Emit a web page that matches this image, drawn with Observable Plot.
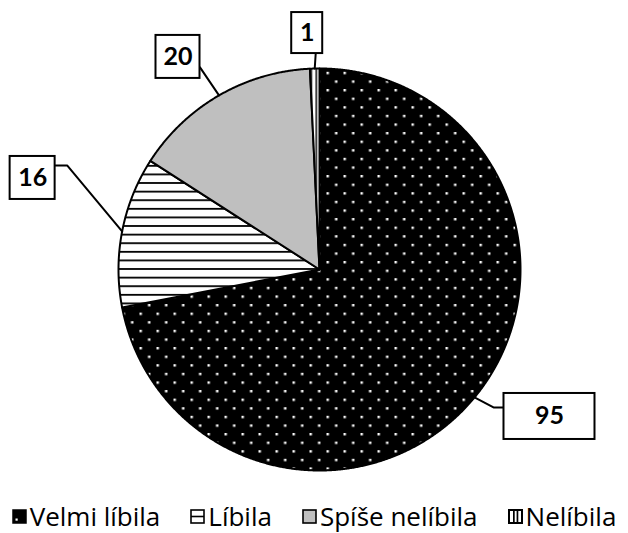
<!DOCTYPE html>
<html><head><meta charset="utf-8">
<script src="https://cdn.jsdelivr.net/npm/d3@7"></script>
<script src="https://cdn.jsdelivr.net/npm/@observablehq/plot@0.6"></script>
<style>
html,body{margin:0;background:#fff;font-family:"Open Sans",Lato,sans-serif;}
#chart svg{display:block;}
#legend{display:flex;justify-content:center;align-items:center;height:34px;padding-top:4px;font-size:26px;line-height:30px;color:#000;white-space:nowrap;}
.item{display:flex;align-items:center;margin:0 15px;}
.item svg{margin-right:3px;}
</style></head><body>
<div id="chart"></div>
<div id="legend"></div>
<script>
// ---- data ----
const categories = ["Velmi líbila", "Líbila", "Spíše nelíbila", "Nelíbila"];
const values = [95, 16, 20, 1];
const valueLabels = ["95", "16", "20", "1"];

// ---- layout / style (not data) ----
const W = 628, H = 495, CX = 319, CY = 269, R = 201;
const fills = ["url(#p-dots)", "url(#p-hlines)", "#bfbfbf", "url(#p-vlines)"];
const labelLayout = [
  {dx: 75, dy: 19, w: 91, h: 46, leader: [[0, 0], [19, 10], [30, 10]]},
  {dx: -89.5, dy: -53.5, w: 45, h: 43, leader: [[0, 0], [-55, -66], [-67, -66]]},
  {dx: -41, dy: -38.5, w: 44, h: 43, leader: [[0, 0], [-19, -28]]},
  {dx: -7.5, dy: -35.5, w: 31, h: 41, leader: [[0, 0], [1, -15]]}
];

const arcs = d3.pie().sort(null).value(d => d)(values);
const slices = arcs.map((a) => {
  const pts = [{x: CX, y: CY}];
  const n = Math.max(2, Math.ceil((a.endAngle - a.startAngle) / 0.005));
  for (let k = 0; k <= n; k++) {
    const t = a.startAngle + (a.endAngle - a.startAngle) * k / n;
    pts.push({x: CX + R * Math.sin(t), y: CY - R * Math.cos(t)});
  }
  pts.push({x: CX, y: CY});
  return pts;
});
const anchors = arcs.map(a => {
  const m = (a.startAngle + a.endAngle) / 2;
  return {x: CX + R * Math.sin(m), y: CY - R * Math.cos(m)};
});
const boxes = anchors.map((p, i) => ({
  label: valueLabels[i],
  cx: p.x + labelLayout[i].dx, cy: p.y + labelLayout[i].dy,
  x1: p.x + labelLayout[i].dx - labelLayout[i].w / 2,
  x2: p.x + labelLayout[i].dx + labelLayout[i].w / 2,
  y1: p.y + labelLayout[i].dy - labelLayout[i].h / 2,
  y2: p.y + labelLayout[i].dy + labelLayout[i].h / 2
}));
const leaders = anchors.flatMap((p, i) =>
  labelLayout[i].leader.map(([ox, oy]) => ({k: i, x: p.x + ox, y: p.y + oy})));

const plot = Plot.plot({
  width: W, height: H, margin: 0,
  x: {domain: [0, W], range: [0, W], axis: null},
  y: {domain: [0, H], range: [0, H], axis: null},
  marks: [
    ...slices.map((pts, i) => Plot.line(pts, {x: "x", y: "y", fill: fills[i], stroke: "#000", strokeWidth: 2, strokeLinejoin: "round"})),
    Plot.line(leaders, {x: "x", y: "y", z: "k", stroke: "#000", strokeWidth: 2}),
    Plot.rect(boxes, {x1: "x1", x2: "x2", y1: "y1", y2: "y2", fill: "#fff", stroke: "#000", strokeWidth: 2}),
    Plot.text(boxes, {x: "cx", y: "cy", text: "label", fontSize: 25, fontWeight: "bold", fontFamily: "Lato, sans-serif", fill: "#000"})
  ]
});
plot.insertAdjacentHTML("afterbegin", `<defs>
<pattern id="p-dots" patternUnits="userSpaceOnUse" x="3" y="2.5" width="17" height="17.2">
 <rect width="17" height="17.2" fill="#000"/>
 <rect x="0" y="0" width="2.4" height="2.4" fill="#fff"/>
 <rect x="8.5" y="8.6" width="2.4" height="2.4" fill="#fff"/>
</pattern>
<pattern id="p-hlines" patternUnits="userSpaceOnUse" x="0" y="1" width="10" height="8.6">
 <rect width="10" height="8.6" fill="#fff"/>
 <rect x="0" y="0" width="10" height="1.8" fill="#000"/>
</pattern>
<pattern id="p-vlines" patternUnits="userSpaceOnUse" x="0" y="0" width="5" height="10">
 <rect width="5" height="10" fill="#fff"/>
 <rect x="0" y="0" width="1.5" height="10" fill="#000"/>
</pattern>
</defs>`);
document.getElementById("chart").appendChild(plot);

// legend
const swatches = [
  `<rect x="1" y="1" width="13" height="13" fill="#000" stroke="#000" stroke-width="1.5"/><rect x="3.5" y="9.5" width="2.2" height="2.2" fill="#fff"/>`,
  `<rect x="1" y="1" width="13" height="13" fill="#fff" stroke="#000" stroke-width="1.6"/><rect x="1" y="6.7" width="13" height="1.6" fill="#000"/>`,
  `<rect x="1" y="1" width="13" height="13" fill="#bfbfbf" stroke="#000" stroke-width="1.6"/>`,
  `<rect x="1" y="1" width="13" height="13" fill="#fff" stroke="#000" stroke-width="2"/><rect x="5" y="1" width="1.7" height="13" fill="#000"/><rect x="8.6" y="1" width="1.7" height="13" fill="#000"/>`
];
const legend = document.getElementById("legend");
categories.forEach((c, i) => {
  const it = document.createElement("div");
  it.className = "item";
  it.innerHTML = `<svg width="15" height="15" viewBox="0 0 15 15">${swatches[i]}</svg><span>${c}</span>`;
  legend.appendChild(it);
});
</script>
</body></html>
